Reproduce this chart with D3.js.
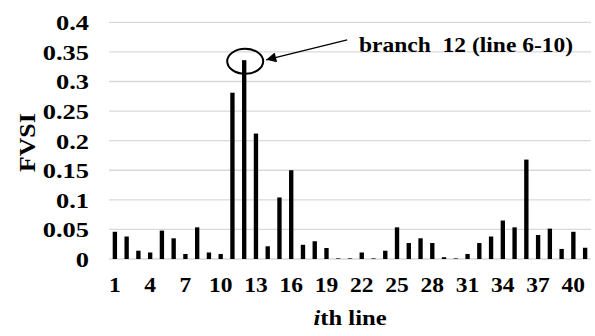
<!DOCTYPE html>
<html>
<head>
<meta charset="utf-8">
<script src="https://cdn.jsdelivr.net/npm/d3@7"></script>
<style>
  html, body { margin: 0; padding: 0; background: #fff; }
</style>
</head>
<body>
<div id="chart"></div>
<script>
// numero da linha (1..41)
const linhas = d3.range(1, 42);

// FVSI de cada linha
const fvsi = [
  0.046, 0.038, 0.014, 0.011, 0.048, 0.035, 0.0085, 0.0535, 0.011, 0.0085,
  0.281, 0.336, 0.212, 0.0215, 0.104, 0.150, 0.024, 0.030, 0.0186, 0.001,
  0.001, 0.011, 0.001, 0.014, 0.0535, 0.027, 0.035, 0.027, 0.003, 0.001,
  0.0085, 0.027, 0.038, 0.065, 0.0535, 0.168, 0.0405, 0.0513, 0.017, 0.046,
  0.019
];

const yTicks = [0, 0.05, 0.1, 0.15, 0.2, 0.25, 0.3, 0.35, 0.4];
const xTickLabels = [1, 4, 7, 10, 13, 16, 19, 22, 25, 28, 31, 34, 37, 40];

const destaque = { linha: 12, valor: 0.334, texto: "branch  12 (line 6-10)" };

const fonte = '"Liberation Serif", "Times New Roman", "DejaVu Serif", serif';

const width = 595, height = 336;
const margins = { top: 22.3, right: 4, bottom: 77, left: 109 };

const svg = d3.select("#chart").append("svg")
    .attr("width", width)
    .attr("height", height);

// aplica fonte e alarga o texto na horizontal (o original e mais largo)
function estilo(sel, tamanho, estica = 1.12) {
  sel.style("font-family", fonte)
     .style("font-weight", "bold")
     .style("font-size", tamanho)
     .attr("fill", "#000")
     .each(function() {
        const t = d3.select(this);
        const x0 = +(t.attr("x") || 0);
        const tr = t.attr("transform") || "";
        t.attr("x", x0 / estica)
         .attr("transform", `${tr} scale(${estica},1)`);
     });
}

const x = d3.scaleBand()
    .domain(linhas)
    .range([margins.left, width - margins.right])
    .paddingInner(0.63)
    .paddingOuter(0.315);

const y = d3.scaleLinear()
    .domain([0, 0.4])
    .range([height - margins.bottom, margins.top]);

// Linhas de grade
svg.append("g")
  .selectAll("line")
  .data(yTicks)
  .enter()
  .append("line")
    .attr("x1", margins.left)
    .attr("x2", width - margins.right)
    .attr("y1", d => y(d))
    .attr("y2", d => y(d))
    .attr("stroke", "#d9d9d9")
    .attr("stroke-width", 1.3);

// Eixo Y
const eixoY = svg.append("g")
    .attr("transform", `translate(${margins.left},0)`)
    .call(d3.axisLeft(y).tickValues(yTicks).tickSize(0).tickPadding(20)
      .tickFormat(d => d === 0 ? "0" : String(+d.toFixed(2))));
eixoY.select(".domain").remove();
eixoY.selectAll("text").attr("dy", "0.34em");
eixoY.attr("font-family", null).attr("font-size", null);
estilo(eixoY.selectAll("text"), "22px", 1.2);

// Eixo X
const eixoX = svg.append("g")
    .attr("transform", `translate(0,${y(0)})`)
    .call(d3.axisBottom(x).tickValues(xTickLabels).tickSize(0).tickPadding(18));
eixoX.select(".domain").remove();
eixoX.selectAll("text").attr("dy", "0.71em");
eixoX.attr("font-family", null).attr("font-size", null);
estilo(eixoX.selectAll("text"), "21px");

// Barras
svg.append("g")
  .selectAll("rect")
  .data(linhas)
  .enter()
  .append("rect")
    .attr("x", d => x(d))
    .attr("y", (d, i) => y(fvsi[i]))
    .attr("width", x.bandwidth())
    .attr("height", (d, i) => y(0) - y(fvsi[i]))
    .attr("fill", "#000");

// Titulos dos eixos
const tituloY = svg.append("text")
    .attr("transform", `translate(35, ${y(0.2) + 2}) rotate(-90)`)
    .attr("text-anchor", "middle")
    .text("FVSI");
estilo(tituloY, "23px");

const tituloX = svg.append("text")
    .attr("x", (margins.left + width - margins.right) / 2)
    .attr("y", 325)
    .attr("text-anchor", "middle");
tituloX.append("tspan").style("font-style", "italic").text("i");
tituloX.append("tspan").text("th line");
estilo(tituloX, "22px");

// Anotacao do ramo 12
const cx = x(destaque.linha) + x.bandwidth() / 2 + 1;
const cy = y(destaque.valor);

svg.append("defs").append("marker")
    .attr("id", "seta")
    .attr("viewBox", "0 0 10 10")
    .attr("refX", 10)
    .attr("refY", 5)
    .attr("markerWidth", 14)
    .attr("markerHeight", 10)
    .attr("markerUnits", "userSpaceOnUse")
    .attr("orient", "auto")
  .append("path")
    .attr("d", "M0,0L10,5L0,10Z")
    .attr("fill", "#000");

svg.append("ellipse")
    .attr("cx", cx)
    .attr("cy", cy)
    .attr("rx", 18)
    .attr("ry", 12.5)
    .attr("fill", "none")
    .attr("stroke", "#000")
    .attr("stroke-width", 2);

svg.append("line")
    .attr("x1", cx + 102)
    .attr("y1", cy - 21.5)
    .attr("x2", cx + 21)
    .attr("y2", cy - 1.5)
    .attr("stroke", "#000")
    .attr("stroke-width", 1.3)
    .attr("marker-end", "url(#seta)");

const nota = svg.append("text")
    .attr("x", 359)
    .attr("y", 52)
    .style("white-space", "pre")
    .text(destaque.texto);
estilo(nota, "21px");
</script>
</body>
</html>
